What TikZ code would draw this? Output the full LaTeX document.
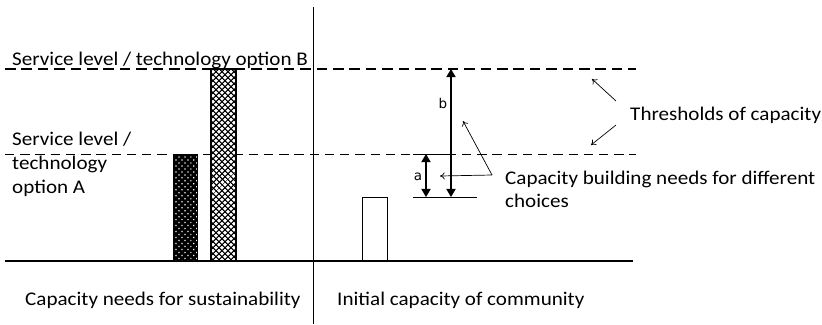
\documentclass[tikz,border=0pt]{standalone}
\usepackage{fontspec}
\setmainfont[FakeStretch=1.09]{Carlito}
\newfontfamily\dejavu{DejaVu Sans}
\usetikzlibrary{arrows.meta,patterns.meta}

\begin{document}
\begin{tikzpicture}[x=0.03cm,y=-0.03cm,
    txt/.style={inner sep=0pt,anchor=base west,font=\fontsize{16.5}{20}\selectfont},
    lbl/.style={inner sep=0pt,font=\dejavu\fontsize{11.5}{12}\selectfont},
    levelB/.style={line width=1.6pt,dash pattern=on 9pt off 5pt},
    levelA/.style={line width=0.7pt,dash pattern=on 8pt off 5pt},
    need/.style={line width=0.9pt,{Triangle[length=7pt,width=8pt]}-{Triangle[length=7pt,width=8pt]}},
    pointer/.style={line width=0.6pt,-{To[length=4pt,width=6pt]}}]

\useasboundingbox (0,0) rectangle (822,324);

% axes
\coordinate (base0) at (5,261);
\coordinate (base1) at (633,261);
\coordinate (div0) at (313,7);
\coordinate (div1) at (313,324);
\draw[line width=0.9pt] (base0) -- (base1);
\draw[line width=0.8pt] (div0) -- (div1);

% thresholds
\coordinate (B0) at (5,69);
\coordinate (B1) at (636,69);
\coordinate (A0) at (5,154);
\coordinate (A1) at (636,154);
\draw[levelB] (B0) -- (B1);
\draw[levelA] (A0) -- (A1);

% bars
\fill[black] (173,154) rectangle (197,261);
\fill[pattern={Dots[radius=0.75pt,distance=3.6pt,angle=45]},pattern color=white] (173,154) rectangle (197,261);
\draw[line width=0.7pt] (173,154) rectangle (197,261);
\fill[white] (211,69) rectangle (236,261);
\fill[pattern={Lines[angle=45,distance=4pt,line width=1.4pt]}] (211,69) rectangle (236,261);
\fill[pattern={Lines[angle=-45,distance=4pt,line width=1.4pt]}] (211,69) rectangle (236,261);
\draw[line width=0.9pt] (211,69) rectangle (236,261);
\draw[line width=0.8pt] (362,197) rectangle (387,261);

% capacity gaps
\coordinate (low0) at (413,197);
\coordinate (low1) at (477,197);
\coordinate (cap0) at (413,154);
\coordinate (cap1) at (450,154);
\draw[line width=0.8pt] (low0) -- (low1);
\draw[line width=0.8pt] (cap0) -- (cap1);
\coordinate (a0) at (426,197);
\coordinate (a1) at (426,154);
\coordinate (b0) at (451,197);
\coordinate (b1) at (451,69);
\draw[need] (a0) -- (a1);
\draw[need] (b0) -- (b1);
\node[lbl] (la) at (418,177) {a};
\node[lbl] (lb) at (443,103) {b};

% labels
\node[txt] (optB) at (12,65) {Service level / technology option B};
\node[txt] (optA1) at (12,145) {Service level /};
\node[txt] (optA2) at (12,169) {technology};
\node[txt] (optA3) at (12,193) {option A};
\node[txt] (needs1) at (505,184) {Capacity building needs for different};
\node[txt] (needs2) at (505,207) {choices};
\node[txt] (thr) at (630,120) {Thresholds of capacity};
\node[txt] (left) at (25,305) {Capacity needs for sustainability};
\node[txt] (right) at (337,305) {Initial capacity of community};

% pointers
\coordinate (p0) at (492,175);
\coordinate (p1) at (440,176);
\coordinate (p2) at (463,121);
\draw[pointer] (p0) -- (p1);
\draw[pointer] (p0) -- (p2);
\coordinate (t0) at (616,101);
\coordinate (t1) at (592,79);
\coordinate (t2) at (616,125);
\coordinate (t3) at (591,145);
\draw[pointer] (t0) -- (t1);
\draw[pointer] (t2) -- (t3);
\end{tikzpicture}
\end{document}
